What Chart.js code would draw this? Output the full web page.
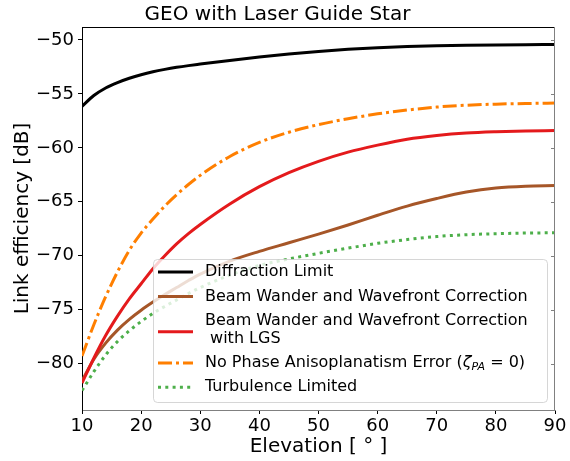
<!DOCTYPE html>
<html>
<head>
<meta charset="utf-8">
<script src="https://cdn.jsdelivr.net/npm/chart.js@4.4.0/dist/chart.umd.min.js"></script>
<style>
  html, body { margin: 0; padding: 0; background: #fff; }
</style>
</head>
<body>
<canvas id="chart" width="570" height="461"></canvas>
<script>
// values (dB vs elevation in degrees)
const elevation   = [10, 12, 14, 16, 18, 20, 22, 24, 26, 28, 30, 35, 40, 45, 50, 55, 60, 65, 70, 75, 80, 85, 90];
const diffraction = [-56.15, -55.15, -54.45, -53.95, -53.55, -53.22, -52.95, -52.73, -52.54, -52.38, -52.24, -51.9, -51.58, -51.3, -51.06, -50.87, -50.72, -50.61, -50.54, -50.49, -50.46, -50.44, -50.43];
const beamWander  = [-81.6, -79.6, -78.1, -76.9, -75.9, -75.05, -74.3, -73.6, -72.95, -72.3, -71.7, -70.5, -69.6, -68.8, -68.0, -67.15, -66.25, -65.4, -64.7, -64.1, -63.72, -63.55, -63.5];
const withLGS     = [-81.8, -79.5, -77.4, -75.6, -74.0, -72.6, -71.2, -70.0, -68.9, -67.95, -67.1, -65.2, -63.6, -62.3, -61.25, -60.4, -59.75, -59.2, -58.85, -58.62, -58.5, -58.43, -58.4];
const noPhase     = [-79.3, -76.4, -73.8, -71.5, -69.5, -67.9, -66.6, -65.4, -64.35, -63.4, -62.55, -60.8, -59.5, -58.55, -57.85, -57.3, -56.85, -56.5, -56.22, -56.05, -55.95, -55.89, -55.85];
const turbulence  = [-82.5, -80.75, -79.2, -77.95, -76.95, -76.1, -75.35, -74.7, -74.1, -73.5, -72.95, -71.8, -70.9, -70.3, -69.78, -69.3, -68.85, -68.5, -68.22, -68.05, -67.96, -67.9, -67.87];

const xTicks = [10, 20, 30, 40, 50, 60, 70, 80, 90];
const yTicks = [-80, -75, -70, -65, -60, -55, -50];

const pts = arr => elevation.map((e, i) => ({ x: e, y: arr[i] }));
const minus = v => (v < 0 ? '\u2212' : '') + Math.abs(v);

Chart.defaults.font.family = "'DejaVu Sans', sans-serif";
Chart.defaults.color = '#000';

// top and right spines, like a matplotlib box
const frame = {
  id: 'frame',
  afterDraw(chart) {
    const { ctx, chartArea: a, scales } = chart;
    ctx.save();
    ctx.lineWidth = 1;
    ctx.strokeStyle = '#000';
    ctx.beginPath();
    ctx.moveTo(a.left, a.top + 0.5);
    ctx.lineTo(a.right, a.top + 0.5);
    ctx.stroke();
    ctx.strokeStyle = '#808080';
    ctx.beginPath();
    ctx.moveTo(a.right - 0.5, a.top);
    ctx.lineTo(a.right - 0.5, a.bottom);
    yTicks.forEach(v => {
      const y = Math.round(scales.y.getPixelForValue(v)) + 0.5;
      ctx.moveTo(a.right - 4, y);
      ctx.lineTo(a.right, y);
    });
    ctx.stroke();
    ctx.restore();
  }
};

// legend drawn inside the axes, lower right
const legendBox = {
  id: 'legendBox',
  afterDatasetsDraw(chart) {
    const { ctx, chartArea: a } = chart;
    const w = 394, h = 143;
    const bx = a.right - 8 - w, by = a.bottom - 8 - h;
    ctx.save();
    ctx.beginPath();
    ctx.roundRect(bx + 0.5, by + 0.5, w, h, 4);
    ctx.fillStyle = 'rgba(255,255,255,0.8)';
    ctx.fill();
    ctx.strokeStyle = 'rgba(204,204,204,0.8)';
    ctx.lineWidth = 1;
    ctx.stroke();

    const font = "16px 'DejaVu Sans'";
    ctx.font = font;
    ctx.textBaseline = 'middle';
    ctx.fillStyle = '#000';
    let y = by + 13;
    chart.data.datasets.forEach(ds => {
      const lines = ds.label.split('\n');
      const lineY = lines.length > 1 ? y + (lines.length - 1) * 17.7 / 2 + 2 : y;
      ctx.save();
      ctx.strokeStyle = ds.borderColor;
      ctx.lineWidth = ds.borderWidth;
      ctx.lineCap = 'butt';
      ctx.setLineDash(ds.borderDash || []);
      ctx.beginPath();
      ctx.moveTo(bx + 5, lineY);
      ctx.lineTo(bx + 40, lineY);
      ctx.stroke();
      ctx.restore();
      lines.forEach((ln, k) => {
        const ty = y + k * 17.7;
        let tx = bx + 52;
        const m = ln.split('ζ_PA');
        if (m.length === 1) {
          ctx.font = font;
          ctx.fillText(ln, tx, ty);
        } else {
          ctx.font = font;
          ctx.fillText(m[0], tx, ty);
          tx += ctx.measureText(m[0]).width;
          ctx.font = "italic 16px 'DejaVu Sans'";
          ctx.fillText('ζ', tx, ty);
          tx += ctx.measureText('ζ').width;
          ctx.font = "italic 11px 'DejaVu Sans'";
          ctx.fillText('PA', tx, ty + 4);
          tx += ctx.measureText('PA').width;
          ctx.font = font;
          ctx.fillText(m[1], tx, ty);
        }
      });
      y += (lines.length - 1) * 17.7 + 24.4;
    });
    ctx.restore();
  }
};

const line = (label, data, color, extra) => Object.assign({
  label, data: pts(data), borderColor: color, backgroundColor: color,
  borderWidth: 3, pointRadius: 0, fill: false,
  cubicInterpolationMode: 'monotone', borderCapStyle: 'butt'
}, extra);

new Chart(document.getElementById('chart'), {
  type: 'line',
  data: {
    datasets: [
      line('Diffraction Limit', diffraction, '#000000', { order: 5 }),
      line('Beam Wander and Wavefront Correction', beamWander, '#a65628', { order: 4 }),
      line('Beam Wander and Wavefront Correction\n with LGS', withLGS, '#e41a1c', { order: 3 }),
      line('No Phase Anisoplanatism Error (ζ_PA = 0)', noPhase, '#ff7f00', { order: 2, borderDash: [14, 4, 3, 4] }),
      line('Turbulence Limited', turbulence, '#4daf4a', { order: 1, borderDash: [3, 4.3] })
    ]
  },
  options: {
    responsive: false,
    animation: false,
    layout: { padding: { left: 0, right: 15, top: 0, bottom: 0 } },
    plugins: {
      legend: { display: false },
      tooltip: { enabled: false },
      title: {
        display: true,
        text: 'GEO with Laser Guide Star',
        color: '#000',
        font: { size: 20, weight: 'normal' },
        padding: { top: 3, bottom: 0 }
      }
    },
    scales: {
      x: {
        type: 'linear',
        min: 10, max: 90,
        afterBuildTicks: s => { s.ticks = xTicks.map(v => ({ value: v })); },
        ticks: { font: { size: 18 }, padding: 2, autoSkip: false, maxRotation: 0 },
        grid: { drawOnChartArea: false, tickLength: 4, tickColor: '#000' },
        border: { color: '#808080', width: 1 },
        title: { display: true, text: 'Elevation [ ° ]', font: { size: 20 }, padding: { top: 0, bottom: 2 } },
        afterFit: s => { s.height = 51; }
      },
      y: {
        min: -84.3, max: -48.8,
        afterBuildTicks: s => { s.ticks = yTicks.map(v => ({ value: v })); },
        ticks: { font: { size: 18 }, padding: 4, callback: v => minus(v) },
        grid: { drawOnChartArea: false, tickLength: 4, tickColor: '#000' },
        border: { color: '#000', width: 1 },
        title: { display: true, text: 'Link efficiency [dB]', font: { size: 20 }, padding: { top: 11, bottom: 0 } },
        afterFit: s => { s.width = 82; }
      }
    }
  },
  plugins: [frame, legendBox]
});
</script>
</body>
</html>
